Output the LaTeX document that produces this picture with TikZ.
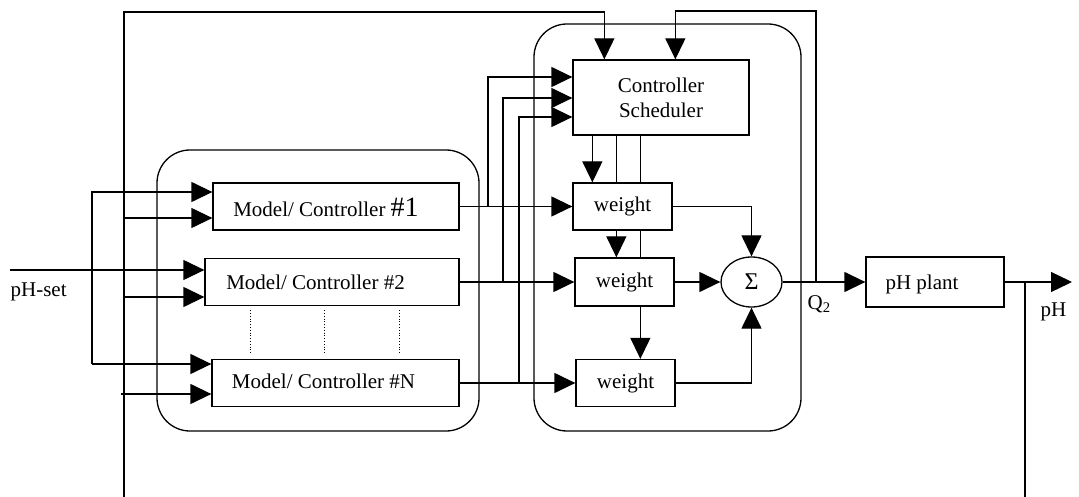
\documentclass[tikz,border=0pt]{standalone}
\usepackage{fontspec}
\setmainfont{Liberation Serif}
\usetikzlibrary{arrows.meta,shapes.geometric,calc}

\begin{document}
\begin{tikzpicture}[x=1pt,y=-1pt,
  line width=1.3pt,
  every node/.style={font=\fontsize{21}{25}\selectfont, inner sep=0pt},
  blk/.style={draw, rectangle, fill=white},
  frame/.style={draw, rectangle, rounded corners=33pt},
  arr/.style={-{Triangle[length=21pt,width=20pt]}},
  guide/.style={dotted, line width=0.8pt}
]
\useasboundingbox (0,0) rectangle (1079,497);

% outer groups
\node[frame, minimum width=322pt, minimum height=281pt] (bank) at (318,290.5) {};
\node[frame, minimum width=267pt, minimum height=407pt] (supv) at (667.5,227.5) {};

% model/controller bank
\node[blk, minimum width=246pt, minimum height=47pt] (m1) at (336,206.5) {};
\node[blk, minimum width=254pt, minimum height=47pt] (m2) at (332,282) {};
\node[blk, minimum width=247pt, minimum height=47pt] (mN) at (335.5,383) {};
\node[anchor=base] (m1t) at (326,217) {Model/ Controller {\fontsize{28}{30}\selectfont\#1}};
\node[anchor=base] (m2t) at (315.5,289) {Model/ Controller \#2};
\node[anchor=base] (mNt) at (323.5,388) {Model/ Controller \#N};

% scheduler and weights
\node[blk, minimum width=176pt, minimum height=75pt, align=center] (sched) at (661,97.5) {Controller\\Scheduler};
\node[blk, minimum width=99pt, minimum height=47pt] (w1) at (622.5,206.5) {weight};
\node[blk, minimum width=99pt, minimum height=48pt] (w2) at (624.5,282) {weight};
\node[blk, minimum width=99pt, minimum height=47pt] (w3) at (625.5,383) {weight};
\node[draw, ellipse, minimum width=61pt, minimum height=50pt, font=\fontsize{24}{28}\selectfont] (sig) at (751.5,282) {Σ};

% plant
\node[blk, minimum width=138pt, minimum height=50pt] (plant) at (935,282) {};
\node[anchor=base] (plantt) at (922,289) {pH plant};

% labels
\node[anchor=base west] (splbl) at (10,296) {pH-set};
\node[anchor=base west] (qlbl) at (807,309) {Q\textsubscript{2}};
\node[anchor=base west] (phlbl) at (1040,316) {pH};

% dotted continuation between #2 and #N
\foreach \xx in {250,324,399}{
  \coordinate (g) at (\xx,0);
  \draw[guide] ($(m2.south -| g)+(0,4)$) -- ($(mN.north -| g)+(0,-4)$);
}

% set-point distribution
\coordinate (ja) at (92,192);
\coordinate (jb) at (92,364);
\coordinate (sp) at (10,270);
\draw[arr] (sp) -- (sp -| m2.west);
\draw[arr] (jb) -- (ja) -- (ja -| m1.west);
\draw[arr] (jb) -- (jb -| mN.west);

% plant-output feedback into the bank and scheduler
\coordinate (fbbot) at (124,497);
\coordinate (fbtop) at (124,12);
\coordinate (s1) at ($(sched.north west)+(32,0)$);
\draw[arr] (fbbot) -- (fbtop) -- (fbtop -| s1) -- (s1);
\coordinate (k1) at (124,218);
\coordinate (k2) at (124,297);
\coordinate (k3) at (121,394);
\draw[arr] (k1) -- (k1 -| m1.west);
\draw[arr] (k2) -- (k2 -| m2.west);
\draw[arr] (k3) -- (k3 -| mN.west);

% model outputs to weights and scheduler
\draw[arr] (m1.east) -- (m1.east -| w1.west);
\draw[arr] (m2.east) -- (w2.west);
\draw[arr] (mN.east) -- (mN.east -| w3.west);
\coordinate (t1) at (488,77);
\coordinate (t2) at (503,98);
\coordinate (t3) at (519,117);
\draw[arr] (t1 |- m1.east) -- (t1) -- (t1 -| sched.west);
\draw[arr] (t2 |- m2.east) -- (t2) -- (t2 -| sched.west);
\draw[arr] (t3 |- mN.east) -- (t3) -- (t3 -| sched.west);

% scheduler to weights
\coordinate (d1) at ($(w1.north west)+(20,0)$);
\coordinate (d2) at ($(w1.north west)+(44,0)$);
\coordinate (d3) at ($(w1.north west)+(68,0)$);
\draw[arr] (sched.south -| d1) -- (d1);
\draw (sched.south -| d2) -- (d2);
\draw[arr] (w1.south -| d2) -- (w2.north -| d2);
\draw (sched.south -| d3) -- (d3);
\draw (w1.south -| d3) -- (w2.north -| d3);
\draw[arr] (w2.south -| d3) -- (w3.north -| d3);

% weighted sum
\draw[arr] (w1.east) -| (sig.north);
\draw[arr] (w2.east) -- (sig.west);
\draw[arr] (w3.east) -| (sig.south);
\draw[arr] (sig.east) -- (plant.west);

% Q2 back to scheduler
\coordinate (q2) at (816,282);
\coordinate (rtop) at (816,11);
\coordinate (s2) at ($(sched.north west)+(103,0)$);
\draw[arr] (q2) -- (rtop) -- (rtop -| s2) -- (s2);

% plant output
\coordinate (phout) at (1072,282);
\coordinate (phfb) at (1025,282);
\coordinate (phbot) at (1025,497);
\draw[arr] (plant.east) -- (phout);
\draw (phfb) -- (phbot);
\end{tikzpicture}
\end{document}
